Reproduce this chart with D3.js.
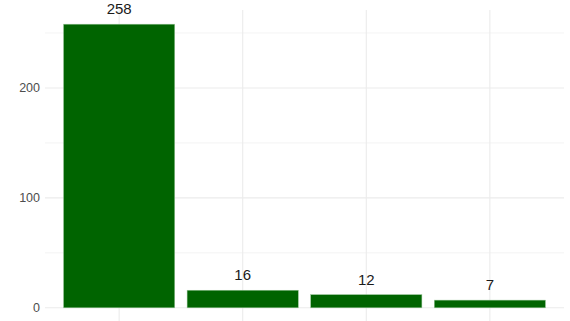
<!DOCTYPE html>
<html>
<head>
<meta charset="utf-8">
<script src="https://cdn.jsdelivr.net/npm/d3@7.9.0/dist/d3.min.js"></script>
<style>
  body { margin: 0; background: #fff; }
  svg { display: block; font-family: "Liberation Sans", Arial, sans-serif; }
</style>
</head>
<body>
<svg id="chart" width="570" height="321"></svg>
<script>
// data
const categories = ["A", "B", "C", "D"];
const counts = [258, 16, 12, 7];
const yTicks = [0, 100, 200];
const yMinor = [50, 150, 250];

const width = 570, height = 321;
const panel = { left: 45, right: 564, top: 10, bottom: 322 };

const svg = d3.select("#chart");

// band scale mimicking ggplot's discrete expansion (0.6 units each side, bar width 0.9)
const step = (panel.right - panel.left) / (categories.length + 0.2);
const x = d3.scaleBand()
    .domain(categories)
    .range([panel.left + 0.6 * step - step / 2, panel.right - 0.6 * step + step / 2])
    .paddingInner(0.1)
    .paddingOuter(0.05);

const yMax = d3.max(counts);
const y = d3.scaleLinear()
    .domain([-yMax * 0.05, yMax * 1.05])
    .range([panel.bottom, panel.top]);

// gridlines
const grid = svg.append("g");
grid.selectAll("line.minor")
    .data(yMinor)
    .enter().append("line")
    .attr("x1", panel.left).attr("x2", panel.right)
    .attr("y1", d => y(d)).attr("y2", d => y(d))
    .attr("stroke", "#ebebeb").attr("stroke-width", 0.6);

grid.selectAll("line.major")
    .data(yTicks)
    .enter().append("line")
    .attr("x1", panel.left).attr("x2", panel.right)
    .attr("y1", d => y(d)).attr("y2", d => y(d))
    .attr("stroke", "#ebebeb").attr("stroke-width", 1.1);

grid.selectAll("line.vert")
    .data(categories)
    .enter().append("line")
    .attr("x1", d => x(d) + x.bandwidth() / 2).attr("x2", d => x(d) + x.bandwidth() / 2)
    .attr("y1", panel.top).attr("y2", panel.bottom)
    .attr("stroke", "#ebebeb").attr("stroke-width", 1.1);

// bars
svg.append("g").selectAll("rect")
    .data(counts)
    .enter().append("rect")
    .attr("x", (d, i) => x(categories[i]))
    .attr("width", x.bandwidth())
    .attr("y", d => y(d))
    .attr("height", d => y(0) - y(d))
    .attr("fill", "#006400")
    .attr("stroke", "#9cc79c")
    .attr("stroke-width", 0.5);

// value labels
svg.append("g").selectAll("text")
    .data(counts)
    .enter().append("text")
    .attr("x", (d, i) => x(categories[i]) + x.bandwidth() / 2)
    .attr("y", d => y(d) - 10)
    .attr("text-anchor", "middle")
    .attr("font-size", "15px")
    .attr("fill", "#1a1a1a")
    .text(d => d);

// y axis labels
svg.append("g").selectAll("text")
    .data(yTicks)
    .enter().append("text")
    .attr("x", 40)
    .attr("y", d => y(d))
    .attr("dy", "0.35em")
    .attr("text-anchor", "end")
    .attr("font-size", "12.5px")
    .attr("fill", "#4d4d4d")
    .text(d => d);
</script>
</body>
</html>
